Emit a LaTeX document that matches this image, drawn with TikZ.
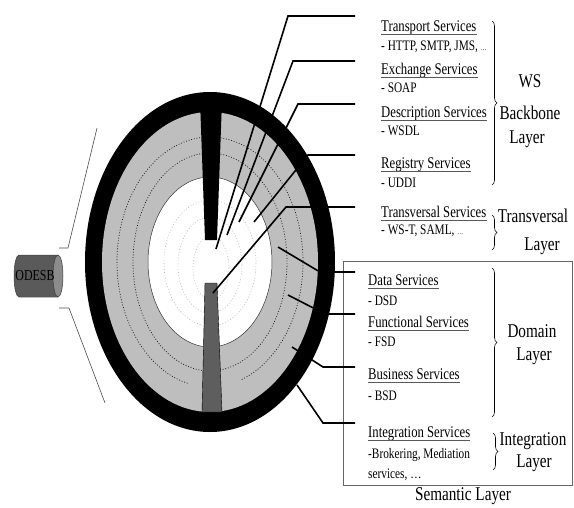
\documentclass[tikz,border=0pt]{standalone}
\usepackage{fontspec}
\setmainfont{Liberation Serif}[FakeStretch=0.78]
\usetikzlibrary{decorations.pathreplacing}
\definecolor{ringgray}{HTML}{BEBEBE}
\definecolor{wedgegray}{HTML}{5E5E5E}
\definecolor{cylbody}{HTML}{5A5A5A}
\definecolor{cylend}{HTML}{8C8C8C}
\begin{document}
\begin{tikzpicture}[x=1pt,y=-1pt,
  svc/.style={font=\fontsize{16.3}{18}\selectfont, inner sep=0pt, anchor=base west},
  sub/.style={font=\fontsize{14.5}{16}\selectfont, inner sep=0pt, anchor=base west},
  lay/.style={font=\fontsize{19.5}{22}\selectfont, inner sep=0pt, anchor=base},
  leader/.style={line width=1.6pt, black},
  ul/.style={gray!70!black, line width=0.6pt},
  brc/.style={decorate, decoration={brace, amplitude=5pt}, line width=0.6pt},
  odl/.style={gray!60!black, line width=0.6pt},
  dotg/.style={gray!20!black, line width=0.7pt, dash pattern=on 0.9pt off 1.8pt},
  dotw/.style={gray!55, line width=0.6pt, dash pattern=on 0.9pt off 2pt}]

\useasboundingbox (0,0) rectangle (574,507);

% ---- the disk ----
\fill[black] (210,262) ellipse [x radius=125, y radius=170];
\fill[ringgray] (210,262) ellipse [x radius=108, y radius=150];
\draw[dotg] (210,262) ++(104:93 and 125) arc [start angle=104, end angle=431, x radius=93, y radius=125];
\draw[dotg] (210,262) ++(96:77 and 109) arc [start angle=96, end angle=441, x radius=77, y radius=109];
\filldraw[fill=white, draw=black!80, line width=0.5pt] (210,262) ellipse [x radius=62, y radius=85];
\draw[dotw] (210,263) ellipse [x radius=46, y radius=63];
\draw[dotw] (210,265) ellipse [x radius=32, y radius=48];
\draw[dotw] (211,268) ellipse [x radius=18, y radius=32];

% wedges
\fill[black] (200,100) -- (222,100) -- (217,240) -- (205,240) -- cycle;
\filldraw[fill=wedgegray, draw=black, line width=0.4pt] (205,283) -- (217,283) -- (222,412) -- (202,412) -- cycle;

% ---- ODESB cylinder ----
\fill[cylbody] (19,255) rectangle (58,297);
\fill[cylbody] (19,276) ellipse [x radius=5, y radius=21];
\draw[black!75, line width=0.5pt] (58,255) -- (19,255) arc [start angle=270, end angle=90, x radius=5, y radius=21] -- (58,297);
\filldraw[fill=cylend, draw=black!75, line width=0.5pt] (58,276) ellipse [x radius=5, y radius=21];
\node[font=\fontsize{15.3}{17}\selectfont, inner sep=0pt] (odesb) at (35,276) {ODESB};
\coordinate (oda) at (59,248); \coordinate (odb) at (68,248); \coordinate (odc) at (97,128);
\coordinate (odd) at (59,308); \coordinate (ode) at (69,308); \coordinate (odf) at (105,403);
\draw[odl] (oda) -- (odb) -- (odc);
\draw[odl] (odd) -- (ode) -- (odf);

% ---- semantic box ----
\draw[gray!80!black, line width=0.6pt] (343,261) rectangle (572,485);
\node[lay] (sem) at (463,500) {Semantic Layer};

% ---- labels ----
\node[svc] (t1) at (381,31) {Transport Services};
\node[sub] (s1) at (381,50) {- HTTP, SMTP, JMS, {\fontsize{7.5}{8}\selectfont\ldots}};
\node[svc] (t2) at (381,74) {Exchange Services};
\node[sub] (s2) at (381,92) {- SOAP};
\node[svc] (t3) at (381,117) {Description Services};
\node[sub] (s3) at (381,135) {- WSDL};
\node[svc] (t4) at (381,168) {Registry Services};
\node[sub] (s4) at (381,187) {- UDDI};
\node[svc] (t5) at (381,217) {Transversal Services};
\node[sub] (s5) at (381,234) {- WS-T, SAML, {\fontsize{7.5}{8}\selectfont\ldots}};
\node[svc] (t6) at (368,285) {Data Services};
\node[sub] (s6) at (368,305) {- DSD};
\node[svc] (t7) at (368,327) {Functional Services};
\node[sub] (s7) at (368,346) {- FSD};
\node[svc] (t8) at (368,379) {Business Services};
\node[sub] (s8) at (368,400) {- BSD};
\node[svc] (t9) at (368,437) {Integration Services};
\node[sub] (s9) at (368,458) {-Brokering, Mediation};
\node[sub] (s9b) at (368,478) {services, \ldots};

\foreach \n in {t1,t2,t3,t4,t5,t6,t7,t8,t9}
  \draw[ul] ([yshift=-2.8pt]\n.base west) -- ([yshift=-2.8pt]\n.base east);

% ---- layer names ----
\node[lay] (ws1) at (530,87) {WS};
\node[lay] (ws2) at (530,119) {Backbone};
\node[lay] (ws3) at (527,143) {Layer};
\node[lay] (tr1) at (533,222) {Transversal};
\node[lay] (tr2) at (542,250) {Layer};
\node[lay] (do1) at (532,337) {Domain};
\node[lay] (do2) at (534,360) {Layer};
\node[lay] (in1) at (533,445) {Integration};
\node[lay] (in2) at (534,467) {Layer};

% ---- braces ----
\coordinate (b1a) at (492,21);  \coordinate (b1b) at (492,185);
\coordinate (b2a) at (492,215); \coordinate (b2b) at (492,250);
\coordinate (b3a) at (492,268); \coordinate (b3b) at (492,417);
\coordinate (b4a) at (493,433); \coordinate (b4b) at (493,470);
\draw[brc] (b1a) -- (b1b);
\draw[brc] (b2a) -- (b2b);
\draw[brc] (b3a) -- (b3b);
\draw[brc] (b4a) -- (b4b);

% ---- leader lines ----
\coordinate (h1) at (355,16);  \coordinate (k1) at (288,16);  \coordinate (e1) at (216,249);
\coordinate (h2) at (355,61);  \coordinate (k2) at (293,61);  \coordinate (e2) at (227,235);
\coordinate (h3) at (355,104); \coordinate (k3) at (298,104); \coordinate (e3) at (239,222);
\coordinate (h4) at (355,155); \coordinate (k4) at (308,155); \coordinate (e4) at (254,222);
\coordinate (h5) at (355,207); \coordinate (k5) at (286,207); \coordinate (e5) at (213,293);
\coordinate (h6) at (355,272); \coordinate (k6) at (320,272); \coordinate (e6) at (278,247);
\coordinate (h7) at (355,314); \coordinate (k7) at (325,314); \coordinate (e7) at (288,295);
\coordinate (h8) at (355,367); \coordinate (k8) at (323,367); \coordinate (e8) at (292,347);
\coordinate (h9) at (355,423); \coordinate (k9) at (323,423); \coordinate (e9) at (297,385);
\foreach \i in {1,...,9}
  \draw[leader] (h\i) -- (k\i) -- (e\i);
\end{tikzpicture}
\end{document}
